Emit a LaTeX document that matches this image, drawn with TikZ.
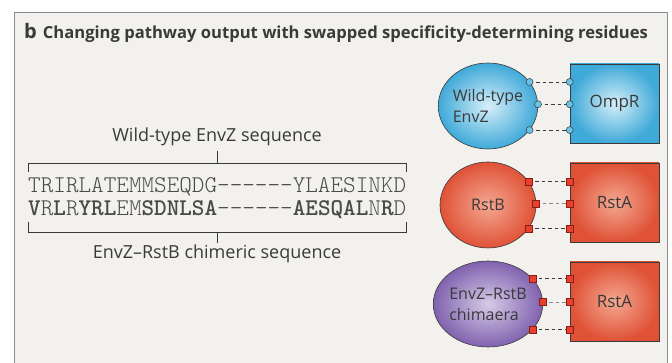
\documentclass[tikz,border=0pt]{standalone}
\usepackage{fontspec}
\setmainfont{Open Sans}
\setmonofont{lmmonolt10}[Extension=.otf, UprightFont=*-regular, BoldFont=*-bold]
\usetikzlibrary{shapes.geometric}

\definecolor{panelbg}{HTML}{F2F1EE}
\definecolor{panelline}{HTML}{8C8C8C}
\definecolor{inkgrey}{HTML}{3A3A3A}
\definecolor{softgrey}{HTML}{8A8A8A}
\definecolor{seqgrey}{HTML}{4A4A4A}
\definecolor{blueout}{HTML}{3FA9D8}
\definecolor{bluein}{HTML}{D6EFF9}
\definecolor{redout}{HTML}{DF5236}
\definecolor{redin}{HTML}{F4A892}
\definecolor{purpout}{HTML}{8062AE}
\definecolor{purpin}{HTML}{D6CBE8}
\definecolor{darkred}{HTML}{8A1E14}
\definecolor{pinbluefill}{HTML}{6CC3E8}
\definecolor{pinredfill}{HTML}{E8402C}

\newcommand{\seqfont}{\fontsize{24}{26}\selectfont\ttfamily}

\tikzset{
  kinase/.style={ellipse, draw=inkgrey, line width=0.6pt, minimum width=96pt,
    minimum height=86pt, inner sep=0pt, text=inkgrey, align=left,
    font=\fontsize{16}{21}\selectfont},
  regulator/.style={rectangle, draw=inkgrey, line width=0.6pt, minimum width=89pt,
    minimum height=79pt, inner sep=0pt, text=inkgrey, font=\fontsize{17}{20}\selectfont},
  bluefill/.style={inner color=bluein, outer color=blueout},
  redfill/.style={inner color=redin, outer color=redout},
  purpfill/.style={inner color=purpin, outer color=purpout},
  pinblue/.style={circle, draw=inkgrey, fill=pinbluefill, minimum size=7pt,
    inner sep=0pt, line width=0.5pt},
  pinred/.style={rectangle, draw=darkred, fill=pinredfill, minimum size=7pt,
    inner sep=0pt, line width=0.6pt},
  contact/.style={draw=inkgrey, line width=0.7pt, dash pattern=on 3.5pt off 3pt},
  seqlabel/.style={text=inkgrey, font=\fontsize{18}{21}\selectfont},
  bracket/.style={draw=inkgrey, line width=0.7pt},
}

\begin{document}
\begin{tikzpicture}[x=1pt,y=-1pt]
  \useasboundingbox (0,0) rectangle (672,363);
  \fill[white] (0,0) rectangle (672,363);
  \draw[panelline, fill=panelbg, line width=0.8pt] (14,12) rectangle (667,380);

  % title
  \node[anchor=base west, inner sep=0pt, text=inkgrey] (title) at (24,39)
    {\fontsize{20}{20}\selectfont\bfseries b\hspace{6pt}\fontsize{16.6}{18}\selectfont Changing pathway output with swapped specificity-determining residues};

  % sequences
  \node[seqlabel] (wtlabel) at (217,137) {Wild-type EnvZ sequence};
  \node[anchor=base west, inner sep=0pt, text=seqgrey, font=\seqfont] (wtseq) at (28,193)
    {TRIRLATEMMSEQDG------YLAESINKD};
  \node[anchor=base west, inner sep=0pt, text=seqgrey, font=\seqfont] (chseq) at (28,216)
    {\textbf{V}R\textbf{L}R\textbf{YRL}EM\textbf{SDNLSA}------\textbf{AESQAL}N\textbf{R}D};
  \node[seqlabel] (chlabel) at (217,254) {EnvZ--RstB chimeric sequence};
  \draw[bracket] (28,172) -- (28,163) -- (406,163) -- (406,172);
  \draw[bracket] (217,163) -- (217,151);
  \draw[bracket] (28,222) -- (28,232) -- (406,232) -- (406,222);
  \draw[bracket] (217,232) -- (217,243);

  % wild-type pair
  \node[kinase, bluefill] (envz) at (488,106) {Wild-type\\EnvZ};
  \node[regulator, bluefill] (ompr) at (614.5,103.5) {OmpR};
  \foreach \a/\n in {30/1,2/2,-30/3} {
    \coordinate (envz\n) at (envz.\a);
    \coordinate (ompr\n) at (ompr.west |- envz\n);
    \draw[contact] (envz\n) -- (ompr\n);
    \node[pinblue] at (envz\n) {};
    \node[pinblue] at (ompr\n) {};
  }

  % RstB pair
  \node[kinase, redfill] (rstb) at (488,205) {RstB};
  \node[regulator, redfill] (rsta) at (614.5,202.5) {RstA};
  \foreach \a/\n/\c in {30/1/inkgrey,2/2/softgrey,-30/3/inkgrey} {
    \coordinate (rstb\n) at (rstb.\a);
    \coordinate (rsta\n) at (rsta.west |- rstb\n);
    \draw[contact, draw=\c] (rstb\n) -- (rsta\n);
    \node[pinred] at (rstb\n) {};
    \node[pinred] at (rsta\n) {};
  }

  % chimaera pair
  \node[kinase, purpfill] (chim) at (488,304) {EnvZ--RstB\\chimaera};
  \node[regulator, redfill] (rstac) at (614.5,301.5) {RstA};
  \foreach \a/\n/\c in {30/1/inkgrey,2/2/softgrey,-30/3/inkgrey} {
    \coordinate (chim\n) at (chim.\a);
    \coordinate (rstac\n) at (rstac.west |- chim\n);
    \draw[contact, draw=\c] (chim\n) -- (rstac\n);
    \node[pinred] at (chim\n) {};
    \node[pinred] at (rstac\n) {};
  }
\end{tikzpicture}
\end{document}
